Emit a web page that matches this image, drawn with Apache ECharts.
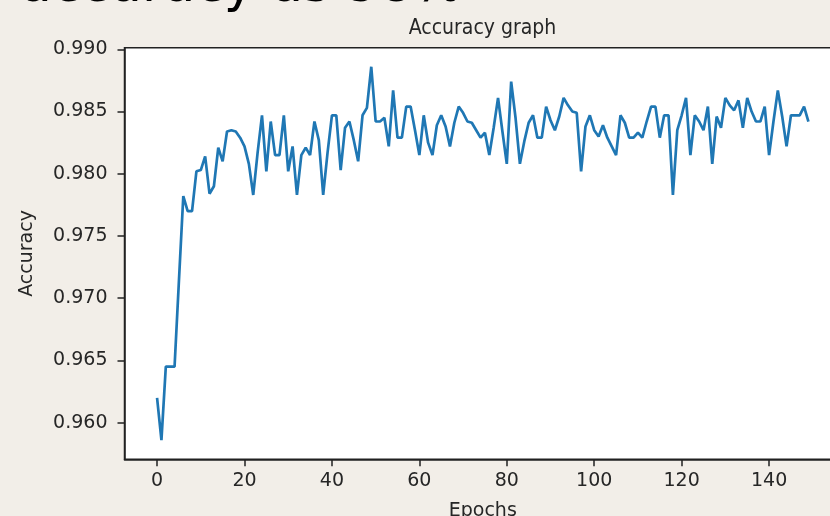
<!DOCTYPE html>
<html>
<head>
<meta charset="utf-8">
<script src="https://cdn.jsdelivr.net/npm/echarts@6/dist/echarts.min.js"></script>
<style>
  html, body { margin: 0; padding: 0; background: #f2eee8; }
  #chart { width: 830px; height: 516px; }
</style>
</head>
<body>
<div id="chart"></div>
<script>
// validation accuracy per epoch
const accuracy = [
  0.9620, 0.9586, 0.9645, 0.9645, 0.9645, 0.9714, 0.9782, 0.9770, 0.9770, 0.9802,
  0.9803, 0.9814, 0.9784, 0.9790, 0.9821, 0.9810, 0.9834, 0.9835, 0.9834, 0.9829,
  0.9822, 0.9808, 0.9783, 0.9817, 0.9847, 0.9802, 0.9842, 0.9815, 0.9815, 0.9847,
  0.9802, 0.9822, 0.9783, 0.9815, 0.9821, 0.9815, 0.9842, 0.9827, 0.9783, 0.9817,
  0.9847, 0.9847, 0.9803, 0.9837, 0.9842, 0.9827, 0.9810, 0.9847, 0.9853, 0.9886,
  0.9842, 0.9842, 0.9845, 0.9822, 0.9867, 0.9829, 0.9829, 0.9854, 0.9854, 0.9835,
  0.9815, 0.9847, 0.9825, 0.9815, 0.9839, 0.9847, 0.9838, 0.9822, 0.9841, 0.9854,
  0.9849, 0.9842, 0.9841, 0.9835, 0.9829, 0.9833, 0.9815, 0.9837, 0.9861, 0.9834,
  0.9808, 0.9874, 0.9845, 0.9808, 0.9826, 0.9841, 0.9847, 0.9829, 0.9829, 0.9854,
  0.9843, 0.9835, 0.9846, 0.9861, 0.9855, 0.9850, 0.9849, 0.9802, 0.9838, 0.9847,
  0.9835, 0.9830, 0.9839, 0.9829, 0.9822, 0.9815, 0.9847, 0.9841, 0.9829, 0.9829,
  0.9833, 0.9829, 0.9842, 0.9854, 0.9854, 0.9829, 0.9847, 0.9847, 0.9783, 0.9835,
  0.9847, 0.9861, 0.9815, 0.9847, 0.9842, 0.9835, 0.9854, 0.9808, 0.9846, 0.9837,
  0.9861, 0.9855, 0.9851, 0.9859, 0.9837, 0.9861, 0.9850, 0.9842, 0.9842, 0.9854,
  0.9815, 0.9842, 0.9867, 0.9846, 0.9822, 0.9847, 0.9847, 0.9847, 0.9854, 0.9842
]
const epochs = accuracy.map((_, i) => i)

const xTicks = [0, 20, 40, 60, 80, 100, 120, 140]
const yTicks = [0.960, 0.965, 0.970, 0.975, 0.980, 0.985, 0.990]

const axisColor = '#222'
const textColor = '#262626'
const font = 'DejaVu Sans'

const chart = echarts.init(document.getElementById('chart'), null, { renderer: 'canvas' })

chart.setOption({
  backgroundColor: '#f2eee8',
  animation: false,
  grid: {
    left: 124.5, top: 47.7, right: -11, bottom: 56.7,
    outerBoundsMode: 'none',
    show: true,
    backgroundColor: '#ffffff',
    borderColor: axisColor,
    borderWidth: 1.5,
  },
  graphic: [
    {
      // caption above the figure, cut off by the screenshot
      type: 'text', x: 20, y: 13,
      style: {
        text: 'accuracy as 98%', fill: '#000',
        font: '52px "DejaVu Sans"', verticalAlign: 'bottom',
      },
    },
    {
      type: 'text', x: 482.5, y: 29,
      style: {
        text: 'Accuracy graph', fill: textColor,
        font: '21px "Liberation Sans Narrow", "DejaVu Sans Condensed", "DejaVu Sans"',
        align: 'center', verticalAlign: 'middle',
      },
    },
  ],
  xAxis: {
    type: 'value',
    min: -7.45,
    max: 156.45,
    name: 'Epochs',
    nameLocation: 'middle',
    nameGap: 42,
    nameTextStyle: { color: textColor, fontSize: 19, fontFamily: font },
    axisLine: { show: true, onZero: false, lineStyle: { color: axisColor, width: 1.5 } },
    axisTick: { show: true, length: 7, customValues: xTicks, lineStyle: { color: axisColor, width: 1.5 } },
    axisLabel: { customValues: xTicks, color: textColor, fontSize: 19, fontFamily: font, margin: 12 },
    splitLine: { show: false },
  },
  yAxis: {
    type: 'value',
    min: 0.95706,
    max: 0.99013,
    name: 'Accuracy',
    nameLocation: 'middle',
    nameGap: 88,
    nameRotate: 90,
    nameTextStyle: { color: textColor, fontSize: 19, fontFamily: font },
    axisLine: { show: true, onZero: false, lineStyle: { color: axisColor, width: 1.5 } },
    axisTick: { show: true, length: 7, customValues: yTicks, lineStyle: { color: axisColor, width: 1.5 } },
    axisLabel: {
      customValues: yTicks, color: textColor, fontSize: 19, fontFamily: font, margin: 17,
      formatter: (v) => v.toFixed(3),
    },
    splitLine: { show: false },
  },
  series: [
    {
      type: 'line',
      data: epochs.map((e, i) => [e, accuracy[i]]),
      showSymbol: false,
      lineStyle: { color: '#1f77b4', width: 2.7 },
      itemStyle: { color: '#1f77b4' },
    },
  ],
})
</script>
</body>
</html>
